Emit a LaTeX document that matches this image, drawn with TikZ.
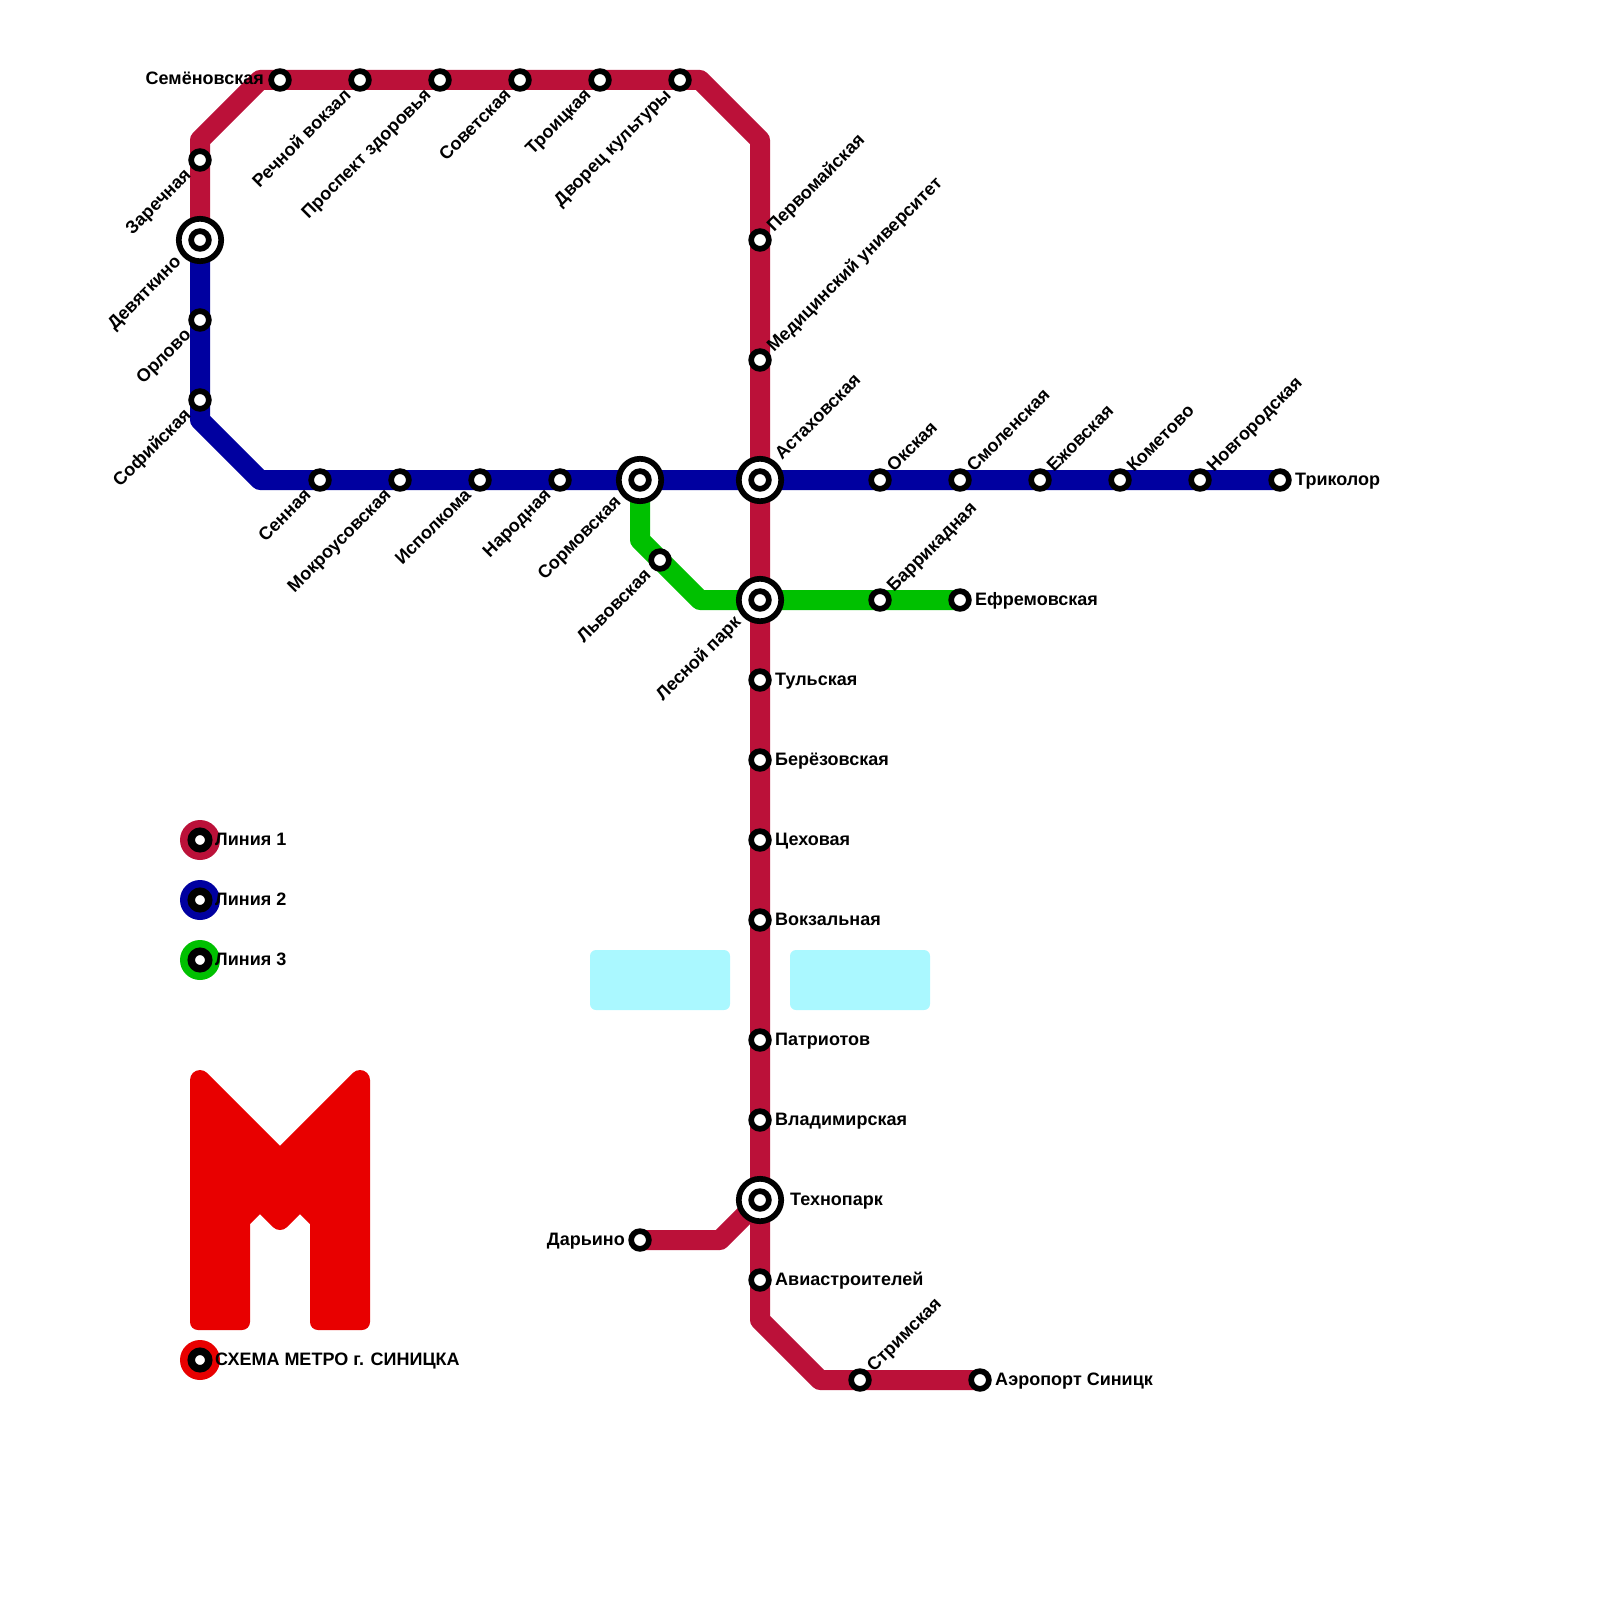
\documentclass[tikz,border=0pt]{standalone}
\usepackage{fontspec}
\setmainfont{Liberation Sans}
\usetikzlibrary{backgrounds}
\definecolor{lineA}{HTML}{BB1139}
\definecolor{lineB}{HTML}{0000A0}
\definecolor{lineC}{HTML}{00C000}
\definecolor{logoRed}{HTML}{E80000}
\definecolor{lake}{HTML}{AAF8FF}
\tikzset{
  stnode/.style={circle,draw=black,fill=white,line width=5.7pt,minimum size=17.7pt,inner sep=0pt},
  ringnode/.style={circle,draw=black,fill=white,line width=5.7pt,minimum size=42.4pt,inner sep=0pt},
  legdot/.style={circle,fill=#1,minimum size=40pt,inner sep=0pt},
  legst/.style={circle,draw=black,fill=white,line width=7.5pt,minimum size=17.5pt,inner sep=0pt},
  txt/.style={font=\fontsize{18}{20}\selectfont\bfseries,inner sep=0pt,text=black},
  lbR/.style={txt,anchor=base west},
  lbL/.style={txt,anchor=base east},
  lbUR/.style={txt,anchor=base west,rotate=45},
  lbDL/.style={txt,anchor=base east,rotate=45},
  metro/.style={line width=20pt,line join=round,draw=#1},
  lakebox/.style={fill=lake,rounded corners=6pt}
}
% name, position, label offset, label style, text
\newcommand{\stn}[5]{\node[stnode] (#1) at (#2) {};\path (#1.center) ++(#3) node[#4] (#1t) {#5};}
\newcommand{\xch}[5]{\node[ringnode] (#1) at (#2) {};\node[stnode] (#1i) at (#2) {};\path (#1.center) ++(#3) node[#4] (#1t) {#5};}
\newcommand{\leg}[4]{\node[legdot=#3] (#1) at (#2) {};\node[legst] (#1i) at (#2) {};\path (#1.center) ++(15,5) node[lbR] (#1t) {#4};}
\begin{document}
\begin{tikzpicture}[x=1pt,y=-1pt]
\useasboundingbox (0,0) rectangle (1600,1600);
% Bends
\coordinate (a1) at (200,140);
\coordinate (a2) at (260,80);
\coordinate (a3) at (700,80);
\coordinate (a4) at (760,140);
\coordinate (a5) at (760,1320);
\coordinate (a6) at (820,1380);
\coordinate (a7) at (720,1240);
\coordinate (b1) at (200,420);
\coordinate (b2) at (260,480);
\coordinate (c1) at (640,540);
\coordinate (c2) at (700,600);
% Line 1 stations
\stn{semen}{280,80}{-16,5}{lbL}{Семёновская}
\stn{rech}{360,80}{-8,16}{lbDL}{Речной вокзал}
\stn{prosp}{440,80}{-8,16}{lbDL}{Проспект здоровья}
\stn{sovet}{520,80}{-8,16}{lbDL}{Советская}
\stn{troi}{600,80}{-8,16}{lbDL}{Троицкая}
\stn{dvor}{680,80}{-8,16}{lbDL}{Дворец культуры}
\stn{zare}{200,160}{-8,16}{lbDL}{Заречная}
\xch{devy}{200,240}{-18,23}{lbDL}{Девяткино}
\stn{perv}{760,240}{14,-7}{lbUR}{Первомайская}
\stn{medu}{760,360}{14,-7}{lbUR}{Медицинский университет}
\xch{asta}{760,480}{22,-19}{lbUR}{Астаховская}
\xch{lesn}{760,600}{-18,23}{lbDL}{Лесной парк}
\stn{tuls}{760,680}{15,5}{lbR}{Тульская}
\stn{bere}{760,760}{15,5}{lbR}{Берёзовская}
\stn{tseh}{760,840}{15,5}{lbR}{Цеховая}
\stn{vokz}{760,920}{15,5}{lbR}{Вокзальная}
\stn{patr}{760,1040}{15,5}{lbR}{Патриотов}
\stn{vlad}{760,1120}{15,5}{lbR}{Владимирская}
\xch{tehn}{760,1200}{30,5}{lbR}{Технопарк}
\stn{avia}{760,1280}{15,5}{lbR}{Авиастроителей}
\stn{strm}{860,1380}{14,-7}{lbUR}{Стримская}
\stn{aero}{980,1380}{15,5}{lbR}{Аэропорт Синицк}
\stn{dary}{640,1240}{-15,5}{lbL}{Дарьино}
% Line 2 stations
\stn{orlo}{200,320}{-8,16}{lbDL}{Орлово}
\stn{sofi}{200,400}{-8,16}{lbDL}{Софийская}
\stn{senn}{320,480}{-8,16}{lbDL}{Сенная}
\stn{mokr}{400,480}{-8,16}{lbDL}{Мокроусовская}
\stn{ispo}{480,480}{-8,16}{lbDL}{Исполкома}
\stn{naro}{560,480}{-8,16}{lbDL}{Народная}
\xch{sorm}{640,480}{-18,23}{lbDL}{Сормовская}
\stn{oksk}{880,480}{14,-7}{lbUR}{Окская}
\stn{smol}{960,480}{14,-7}{lbUR}{Смоленская}
\stn{ezho}{1040,480}{14,-7}{lbUR}{Ежовская}
\stn{kome}{1120,480}{14,-7}{lbUR}{Кометово}
\stn{novg}{1200,480}{14,-7}{lbUR}{Новгородская}
\stn{tric}{1280,480}{15,5}{lbR}{Триколор}
% Line 3 stations
\stn{lvov}{660,560}{-8,16}{lbDL}{Львовская}
\stn{barr}{880,600}{14,-7}{lbUR}{Баррикадная}
\stn{efre}{960,600}{15,5}{lbR}{Ефремовская}
% Legend
\leg{legA}{200,840}{lineA}{Линия 1}
\leg{legB}{200,900}{lineB}{Линия 2}
\leg{legC}{200,960}{lineC}{Линия 3}
\leg{legM}{200,1360}{logoRed}{СХЕМА МЕТРО г. СИНИЦКА}
\begin{scope}[on background layer]
\fill[lakebox] (590,950) rectangle (730,1010);
\fill[lakebox] (790,950) rectangle (930,1010);
\draw[metro=lineA] (devy.center) -- (a1) -- (a2) -- (a3) -- (a4) -- (a5) -- (a6) -- (aero.center);
\draw[metro=lineA] (dary.center) -- (a7) -- (tehn.center);
\draw[metro=lineB] (devy.center) -- (b1) -- (b2) -- (tric.center);
\draw[metro=lineC] (sorm.center) -- (c1) -- (c2) -- (efre.center);
% Logo
\fill[logoRed] (190,1080) arc[start angle=180,end angle=45,radius=10,y radius=-10]
  -- (280,1145.86) -- (352.93,1072.93)
  arc[start angle=135,end angle=0,radius=10,y radius=-10]
  -- (370,1322) arc[start angle=0,end angle=-90,radius=8,y radius=-8]
  -- (318,1330) arc[start angle=-90,end angle=-180,radius=8,y radius=-8]
  -- (310,1224) -- (300,1214) -- (287.07,1227.07)
  arc[start angle=-45,end angle=-135,radius=10,y radius=-10]
  -- (260,1214) -- (250,1224) -- (250,1322)
  arc[start angle=0,end angle=-90,radius=8,y radius=-8]
  -- (198,1330) arc[start angle=-90,end angle=-180,radius=8,y radius=-8]
  -- cycle;
\end{scope}
\end{tikzpicture}
\end{document}
